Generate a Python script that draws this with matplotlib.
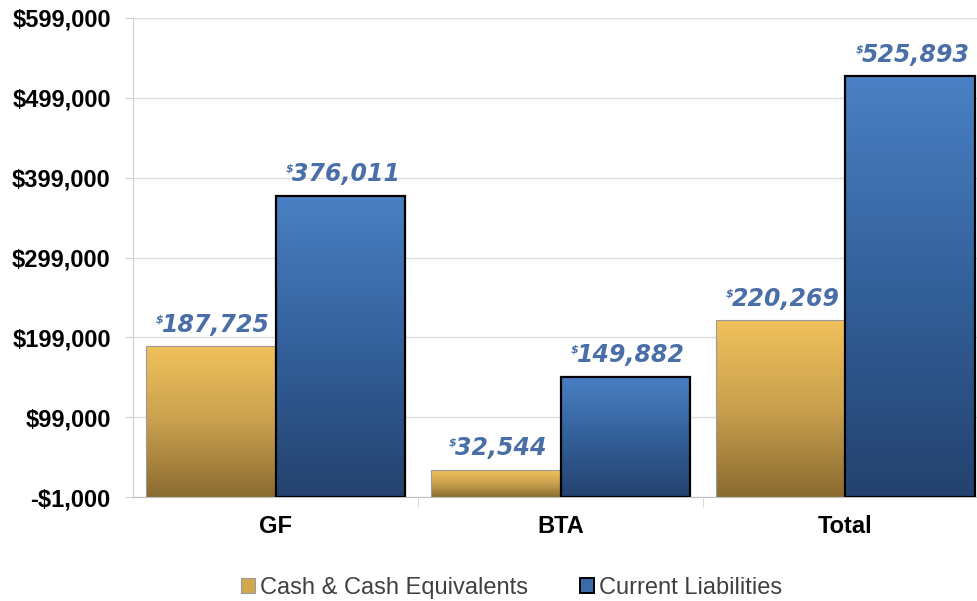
import matplotlib.pyplot as plt
import numpy as np
from matplotlib.colors import LinearSegmentedColormap
from matplotlib.patches import Patch

# Data
categories = ['GF', 'BTA', 'Total']
cash = [187725, 32544, 220269]
liabilities = [376011, 149882, 525893]
series_names = ['Cash & Cash Equivalents', 'Current Liabilities']
yticks = [-1000, 99000, 199000, 299000, 399000, 499000, 599000]

plt.rcParams['font.family'] = ['Liberation Sans', 'DejaVu Sans']

fig = plt.figure(figsize=(9.78, 6.01), dpi=100)
ax = fig.add_axes([133 / 978, 104 / 601, 845 / 978, 479 / 601])

x = np.arange(len(categories))
w = 0.456
ymin, ymax = -1000, 599000

gold_cmap = LinearSegmentedColormap.from_list('gold', ['#8a6b30', '#c9a04e', '#f0c15b'])
blue_cmap = LinearSegmentedColormap.from_list('blue', ['#24426e', '#33609a', '#4a80c4'])

bars_cash = ax.bar(x - w / 2, [v - ymin for v in cash], w, bottom=ymin,
                   facecolor='none', edgecolor='#9a9a9a', linewidth=0.8, zorder=3)
bars_liab = ax.bar(x + w / 2, [v - ymin for v in liabilities], w, bottom=ymin,
                   facecolor='none', edgecolor='black', linewidth=1.6, zorder=3)

# gradient fill for each bar
grad = np.linspace(0, 1, 256).reshape(-1, 1)
for bars, cmap in [(bars_cash, gold_cmap), (bars_liab, blue_cmap)]:
    for b in bars:
        x0, y0 = b.get_x(), b.get_y()
        x1, y1 = x0 + b.get_width(), y0 + b.get_height()
        im = ax.imshow(grad, cmap=cmap, aspect='auto', origin='lower',
                       extent=[x0, x1, y0, y1], zorder=2)
        im.set_clip_path(b)

ax.set_xlim(-0.5, 845 / 285 - 0.5)
ax.set_ylim(ymin, ymax)

ax.set_yticks(yticks)
ax.set_yticklabels([('-$' if v < 0 else '$') + f'{abs(v):,}' for v in yticks],
                   fontsize=17, fontweight='bold')
ax.set_xticks(x)
ax.set_xticklabels(categories, fontsize=17, fontweight='bold')
ax.set_xticks([0.5, 1.5], minor=True)
ax.tick_params(axis='x', which='major', length=0, pad=13)
ax.tick_params(axis='x', which='minor', length=7, color='#d0d0d0')
ax.tick_params(axis='y', length=6, color='#d0d0d0', pad=10)

ax.grid(axis='y', color='#dddddd', linewidth=1, zorder=0)
ax.set_axisbelow(True)
for s in ['top', 'right']:
    ax.spines[s].set_visible(False)
ax.spines['left'].set_color('#d0d0d0')
ax.spines['bottom'].set_color('#c0c0c0')

# Data labels with small superscript $
label_color = '#4a6fa8'
fig.canvas.draw()
renderer = fig.canvas.get_renderer()
for bars, vals in [(bars_cash, cash), (bars_liab, liabilities)]:
    for b, v in zip(bars, vals):
        cx = b.get_x() + b.get_width() / 2
        t = ax.annotate(f'{v:,}', (cx, v), xytext=(4, 7), textcoords='offset points',
                        ha='center', va='bottom', fontsize=17, fontweight='bold',
                        fontstyle='italic', color=label_color,
                        family=['DejaVu Sans'], zorder=5)
        bb = t.get_window_extent(renderer)
        inv = ax.transData.inverted()
        lx, ty = inv.transform((bb.x0, bb.y1))
        ax.annotate('$', (lx, ty), xytext=(1, -1), textcoords='offset points',
                    ha='right', va='top', fontsize=8, fontweight='bold',
                    fontstyle='italic', color=label_color,
                    family=['DejaVu Sans'], zorder=5)

handles = [Patch(facecolor='#d2a84f', edgecolor='#9a9a9a', linewidth=0.8),
           Patch(facecolor='#3a6aa8', edgecolor='black', linewidth=1.4)]
fig.legend(handles, series_names, loc='center', bbox_to_anchor=(0.523, 0.022),
           ncol=2, frameon=False, fontsize=17, handlelength=0.6, handleheight=0.6,
           handletextpad=0.2, columnspacing=2.2, labelcolor='#404040')

fig.savefig('out.png', dpi=100)
